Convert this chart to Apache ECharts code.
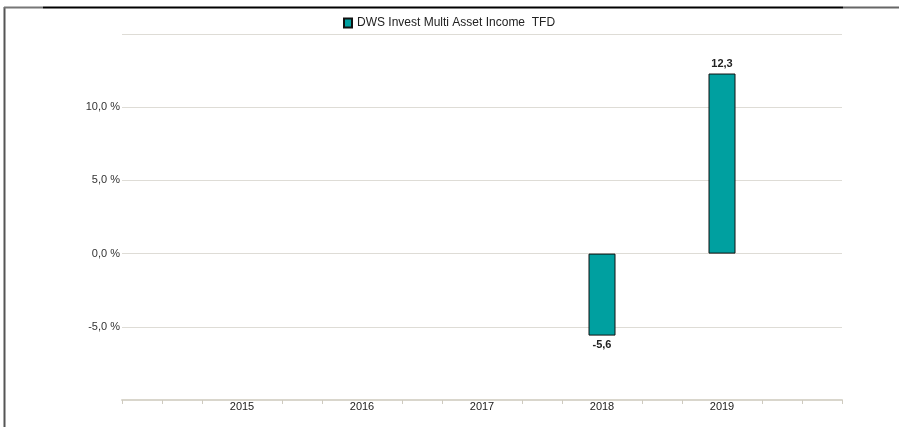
<!DOCTYPE html>
<html>
<head>
<meta charset="utf-8">
<script src="https://cdn.jsdelivr.net/npm/echarts@6/dist/echarts.min.js"></script>
<style>
	html, body { margin: 0; padding: 0; background: #fff; }
	#chart { width: 899px; height: 427px; }
</style>
</head>
<body>
<div id="chart"></div>
<script>
// 数据
var years = ['2014', '2015', '2016', '2017', '2018', '2019', '2020'];
var shownYears = ['2015', '2016', '2017', '2018', '2019'];
var fundName = 'DWS Invest Multi Asset Income  TFD';
var fundValues = [null, null, null, null, -5.6, 12.3, null];
var yTicks = [-5, 0, 5, 10];
// 副轴，只用来画小刻度
var tickSlots = [];
for (var i = 0; i <= 18; i++) tickSlots.push(String(i));

var myChart = echarts.init(document.getElementById('chart'));

var option = {
	animation: false,
	textStyle: { fontFamily: 'Liberation Sans, Arial, sans-serif' },
	legend: {
		top: 12,
		left: 338,
		itemWidth: 8,
		itemHeight: 9,
		itemGap: 10,
		textStyle: { color: '#222', fontSize: 12 },
		data: [{ name: fundName, icon: 'rect' }]
	},
	grid: { left: 122, right: 57, top: 34, bottom: 27 },
	xAxis: [
		{
			type: 'category',
			data: years,
			boundaryGap: false,
			axisLine: { show: true, onZero: false, lineStyle: { color: '#d9d6cc', width: 2 } },
			axisTick: { show: false },
			axisLabel: {
				color: '#222',
				fontSize: 11,
				margin: 1,
				interval: 0,
				formatter: function (v) {
					return shownYears.indexOf(v) >= 0 ? v : '';
				}
			},
			splitLine: { show: false }
		},
		{
			type: 'category',
			data: tickSlots,
			position: 'bottom',
			boundaryGap: false,
			axisLine: { show: false, onZero: false },
			axisLabel: { show: false },
			axisTick: {
				show: true,
				length: 4,
				inside: false,
				lineStyle: { color: '#cfcbc0', width: 1 },
				interval: function (idx) {
					return idx === 0 || idx === 18 || idx % 3 !== 0;
				}
			}
		}
	],
	yAxis: {
		type: 'value',
		min: -10,
		max: 15,
		interval: 5,
		axisLine: { show: false },
		axisTick: { show: false },
		axisLabel: {
			color: '#333',
			fontSize: 11,
			margin: 2,
			formatter: function (v) {
				if (yTicks.indexOf(v) < 0) return '';
				return v.toFixed(1).replace('.', ',') + ' %';
			}
		},
		splitLine: {
			show: true,
			lineStyle: { color: '#dedcd6', width: 1 },
			showMinLine: false
		}
	},
	series: [
		{
			name: fundName,
			type: 'bar',
			barWidth: 27,
			data: fundValues,
			itemStyle: {
				color: '#00a0a0',
				borderColor: '#111',
				borderWidth: 1
			},
			label: {
				show: true,
				position: 'outside',
				color: '#222',
				fontSize: 11,
				fontWeight: 'bold',
				distance: 4,
				formatter: function (p) {
					return p.value == null ? '' : String(p.value).replace('.', ',');
				}
			}
		}
	],
	graphic: [
		{ type: 'line', shape: { x1: 4.5, y1: 7, x2: 4.5, y2: 427 }, style: { stroke: '#555', lineWidth: 2 } },
		{ type: 'line', shape: { x1: 4, y1: 7.5, x2: 43, y2: 7.5 }, style: { stroke: '#777', lineWidth: 2 } },
		{ type: 'line', shape: { x1: 43, y1: 7.5, x2: 843, y2: 7.5 }, style: { stroke: '#000', lineWidth: 2 } },
		{ type: 'line', shape: { x1: 843, y1: 7.5, x2: 899, y2: 7.5 }, style: { stroke: '#666', lineWidth: 2 } }
	]
};

myChart.setOption(option);
</script>
</body>
</html>
